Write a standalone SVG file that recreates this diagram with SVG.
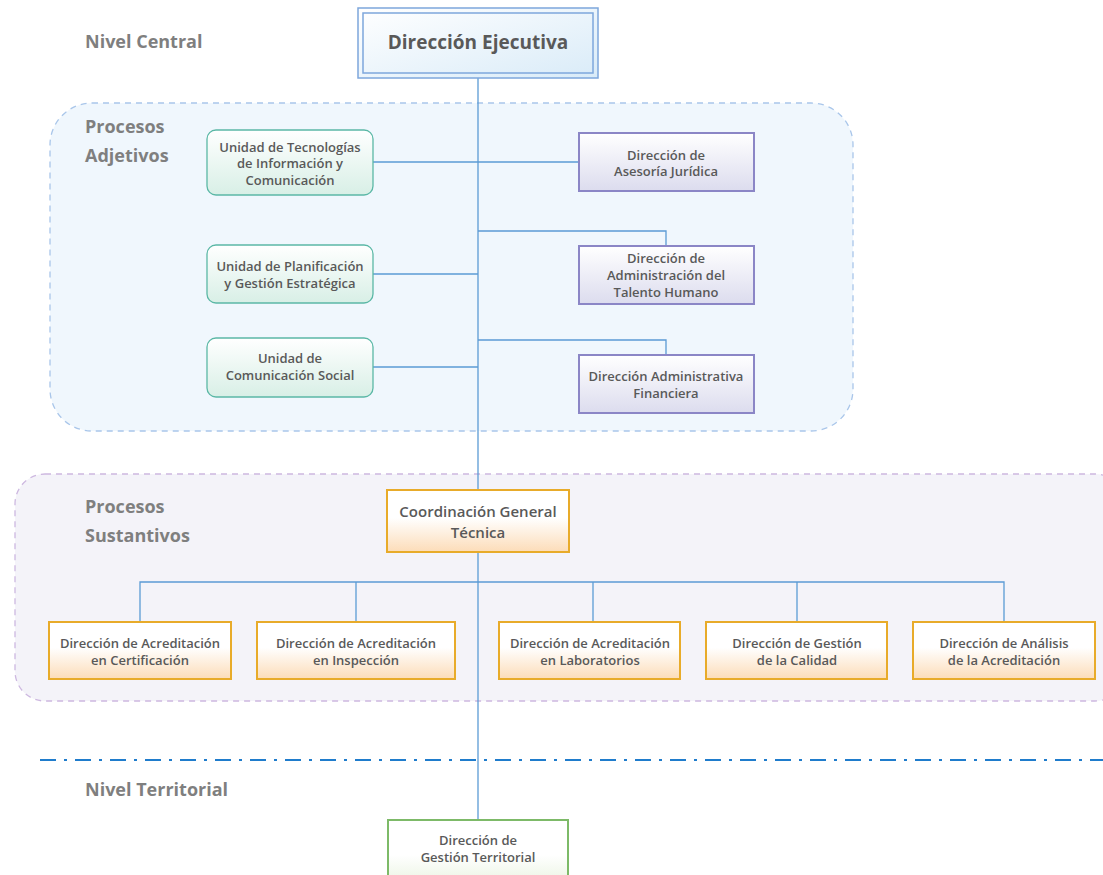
<svg xmlns="http://www.w3.org/2000/svg" width="1103" height="875" viewBox="0 0 1103 875">
<defs>
<linearGradient id="gBlue" x1="0" y1="0" x2="1" y2="1"><stop offset="0" stop-color="#ffffff"/><stop offset="1" stop-color="#d9ebf8"/></linearGradient>
<linearGradient id="gGreen" x1="0" y1="0" x2="0" y2="1"><stop offset="0" stop-color="#ffffff"/><stop offset="1" stop-color="#d8efe6"/></linearGradient>
<linearGradient id="gPurple" x1="0" y1="0" x2="0" y2="1"><stop offset="0" stop-color="#ffffff"/><stop offset="1" stop-color="#dcdcee"/></linearGradient>
<linearGradient id="gOrange" x1="0" y1="0" x2="0" y2="1"><stop offset="0" stop-color="#ffffff"/><stop offset="0.45" stop-color="#ffffff"/><stop offset="1" stop-color="#fcdcb8"/></linearGradient>
<linearGradient id="gLGreen" x1="0" y1="0" x2="0" y2="1"><stop offset="0" stop-color="#ffffff"/><stop offset="0.5" stop-color="#ffffff"/><stop offset="1" stop-color="#e6f2dc"/></linearGradient>
</defs>
<style>
.t{font-family:"Open Sans","Liberation Sans",sans-serif;font-weight:600;font-size:13px;fill:#595959;text-anchor:middle}
.h{font-family:"Open Sans","Liberation Sans",sans-serif;font-weight:700;font-size:18px;fill:#7f7f7f}
.c{fill:none;stroke:#5b9bd5;stroke-width:1.3}
.green{fill:url(#gGreen);stroke:#5bb8a6;stroke-width:1.3}
.purple{fill:url(#gPurple);stroke:#8b86c6;stroke-width:2}
.orange{fill:url(#gOrange);stroke:#e8ab2a;stroke-width:2}
</style>
<rect width="1103" height="875" fill="#ffffff"/>
<g id="group-adjetivos">
<rect x="50" y="103" width="803" height="328" rx="42" fill="#f0f7fd" stroke="#a9c6ea" stroke-width="1.3" stroke-dasharray="6,5"/>
</g>
<g id="group-sustantivos">
<rect x="15" y="474" width="1110" height="227" rx="30" fill="#f4f3f9" stroke="#cdb8e0" stroke-width="1.3" stroke-dasharray="6,5"/>
</g>
<line x1="40" y1="760" x2="1103" y2="760" stroke="#1f7ccc" stroke-width="2" stroke-dasharray="16,8,3,8"/>
<g id="labels">
<text class="h" x="85" y="48">Nivel Central</text>
<text class="h" x="85" y="133">Procesos</text>
<text class="h" x="85" y="162">Adjetivos</text>
<text class="h" x="85" y="513">Procesos</text>
<text class="h" x="85" y="542">Sustantivos</text>
<text class="h" x="85" y="796">Nivel Territorial</text>
</g>
<g id="connectors">
<path class="c" d="M478 78 V820"/>
<path class="c" d="M373 162 H579"/>
<path class="c" d="M478 231 H666 V246"/>
<path class="c" d="M373 274 H478"/>
<path class="c" d="M478 340 H666 V355"/>
<path class="c" d="M373 367 H478"/>
<path class="c" d="M140 622 V582 H1004 V622"/>
<path class="c" d="M356 582 V622"/>
<path class="c" d="M593 582 V622"/>
<path class="c" d="M797 582 V622"/>
</g>
<g id="n-direccion-ejecutiva">
<rect x="358" y="8" width="240" height="70" fill="url(#gBlue)" stroke="#7ea7dc" stroke-width="1.5"/>
<rect x="363" y="13" width="230" height="60" fill="none" stroke="#7ea7dc" stroke-width="1.5"/>
<text class="t" x="478" y="49" style="font-size:19px;font-weight:700">Dirección Ejecutiva</text>
</g>
<g id="n-utic">
<rect class="green" x="207" y="130" width="166" height="65" rx="9"/>
<text class="t" x="290" y="152">Unidad de Tecnologías</text>
<text class="t" x="290" y="168">de Información y</text>
<text class="t" x="290" y="185">Comunicación</text>
</g>
<g id="n-planificacion">
<rect class="green" x="207" y="245" width="166" height="58" rx="9"/>
<text class="t" x="290" y="271">Unidad de Planificación</text>
<text class="t" x="290" y="288">y Gestión Estratégica</text>
</g>
<g id="n-comunicacion">
<rect class="green" x="207" y="338" width="166" height="59" rx="9"/>
<text class="t" x="290" y="363">Unidad de</text>
<text class="t" x="290" y="380">Comunicación Social</text>
</g>
<g id="n-asesoria">
<rect class="purple" x="579" y="133" width="175" height="58"/>
<text class="t" x="666" y="160">Dirección de</text>
<text class="t" x="666" y="176">Asesoría Jurídica</text>
</g>
<g id="n-talento">
<rect class="purple" x="579" y="246" width="175" height="58"/>
<text class="t" x="666" y="263">Dirección de</text>
<text class="t" x="666" y="280">Administración del</text>
<text class="t" x="666" y="297">Talento Humano</text>
</g>
<g id="n-financiera">
<rect class="purple" x="579" y="355" width="175" height="58"/>
<text class="t" x="666" y="381">Dirección Administrativa</text>
<text class="t" x="666" y="398">Financiera</text>
</g>
<g id="n-coordinacion">
<rect class="orange" x="387" y="490" width="182" height="62"/>
<text class="t" x="478" y="517" style="font-size:15px">Coordinación General</text>
<text class="t" x="478" y="538" style="font-size:15px">Técnica</text>
</g>
<g id="n-certificacion">
<rect class="orange" x="49" y="622" width="182" height="57"/>
<text class="t" x="140" y="648">Dirección de Acreditación</text>
<text class="t" x="140" y="665">en Certificación</text>
</g>
<g id="n-inspeccion">
<rect class="orange" x="257" y="622" width="198" height="57"/>
<text class="t" x="356" y="648">Dirección de Acreditación</text>
<text class="t" x="356" y="665">en Inspección</text>
</g>
<g id="n-laboratorios">
<rect class="orange" x="499" y="622" width="181" height="57"/>
<text class="t" x="590" y="648">Dirección de Acreditación</text>
<text class="t" x="590" y="665">en Laboratorios</text>
</g>
<g id="n-calidad">
<rect class="orange" x="706" y="622" width="181" height="57"/>
<text class="t" x="797" y="648">Dirección de Gestión</text>
<text class="t" x="797" y="665">de la Calidad</text>
</g>
<g id="n-analisis">
<rect class="orange" x="913" y="622" width="182" height="57"/>
<text class="t" x="1004" y="648">Dirección de Análisis</text>
<text class="t" x="1004" y="665">de la Acreditación</text>
</g>
<g id="n-territorial">
<rect x="388" y="820" width="180" height="70" fill="url(#gLGreen)" stroke="#7dba68" stroke-width="2"/>
<text class="t" x="478" y="845">Dirección de</text>
<text class="t" x="478" y="862">Gestión Territorial</text>
</g>
</svg>
